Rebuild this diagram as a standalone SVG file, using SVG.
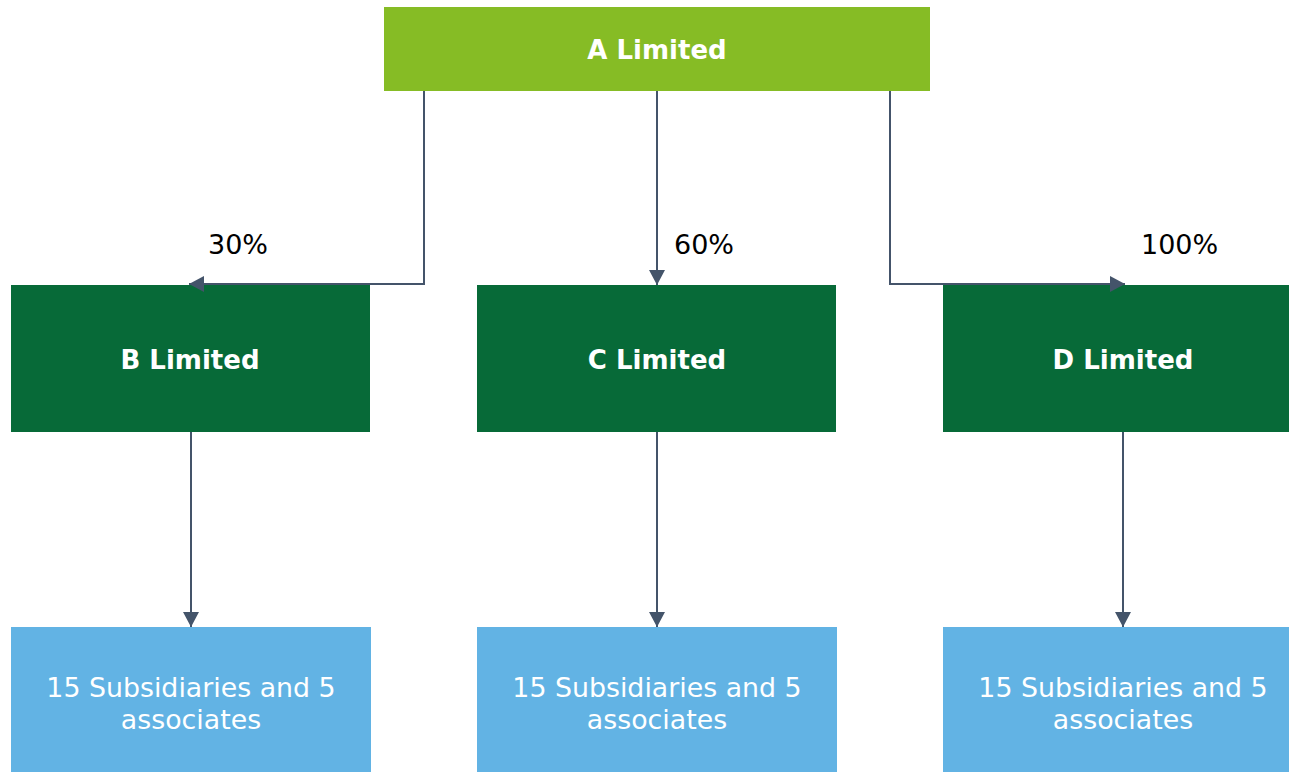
<svg xmlns="http://www.w3.org/2000/svg" width="1289" height="772" viewBox="0 0 1289 772">
  <style>
    .top { fill: #86bc25; }
    .mid { fill: #076a38; }
    .low { fill: #62b3e4; }
    .name { font-family: "DejaVu Sans", Verdana, sans-serif; font-weight: bold; font-size: 26px; fill: #ffffff; text-anchor: middle; }
    .desc { font-family: "DejaVu Sans", Verdana, sans-serif; font-size: 26.8px; fill: #ffffff; text-anchor: middle; }
    .pct { font-family: "DejaVu Sans", Verdana, sans-serif; font-size: 27px; fill: #000000; }
    .link { fill: none; stroke: #44546a; stroke-width: 2; marker-end: url(#arrow); }
  </style>
  <defs>
    <marker id="arrow" viewBox="0 0 15 16" refX="15" refY="8" markerWidth="15" markerHeight="16" markerUnits="userSpaceOnUse" orient="auto">
      <path d="M0,0 L15,8 L0,16 Z" fill="#44546a"/>
    </marker>
  </defs>
  <rect width="1289" height="772" fill="#ffffff"/>

  <g id="node-a">
    <rect class="top" x="384" y="7" width="546" height="84"/>
    <text class="name" x="657" y="59">A Limited</text>
  </g>

  <g id="node-b">
    <rect class="mid" x="11" y="285" width="359" height="147"/>
    <text class="name" x="190" y="369">B Limited</text>
  </g>
  <g id="node-c">
    <rect class="mid" x="477" y="285" width="359" height="147"/>
    <text class="name" x="657" y="369">C Limited</text>
  </g>
  <g id="node-d">
    <rect class="mid" x="943" y="285" width="346" height="147"/>
    <text class="name" x="1123" y="369">D Limited</text>
  </g>

  <g id="node-b-subs">
    <rect class="low" x="11" y="627" width="360" height="145"/>
    <text class="desc" x="191" y="697">15 Subsidiaries and 5</text>
    <text class="desc" x="191" y="729">associates</text>
  </g>
  <g id="node-c-subs">
    <rect class="low" x="477" y="627" width="360" height="145"/>
    <text class="desc" x="657" y="697">15 Subsidiaries and 5</text>
    <text class="desc" x="657" y="729">associates</text>
  </g>
  <g id="node-d-subs">
    <rect class="low" x="943" y="627" width="346" height="145"/>
    <text class="desc" x="1123" y="697">15 Subsidiaries and 5</text>
    <text class="desc" x="1123" y="729">associates</text>
  </g>

  <g id="connectors">
    <path class="link" d="M424,91 V284 H189"/>
    <path class="link" d="M657,91 V285"/>
    <path class="link" d="M890,91 V284 H1125"/>
    <path class="link" d="M191,432 V627"/>
    <path class="link" d="M657,432 V627"/>
    <path class="link" d="M1123,432 V627"/>
  </g>

  <g id="labels">
    <text class="pct" x="208" y="254">30%</text>
    <text class="pct" x="674" y="254">60%</text>
    <text class="pct" x="1141" y="254">100%</text>
  </g>
</svg>
